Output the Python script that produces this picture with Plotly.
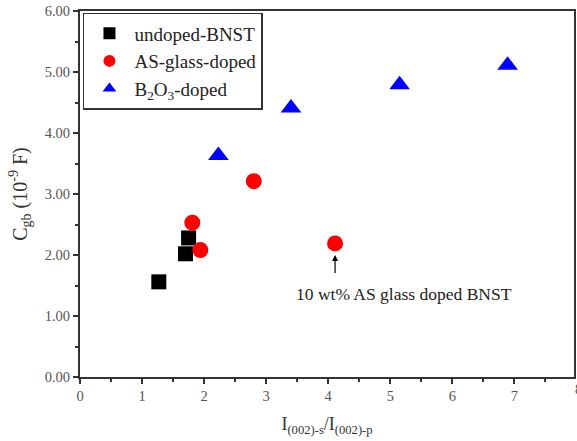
import plotly.graph_objects as go

undoped_x = [1.27, 1.70, 1.75]
undoped_y = [1.56, 2.02, 2.28]
as_x = [1.81, 1.94, 2.80, 4.11]
as_y = [2.53, 2.08, 3.21, 2.19]
b2o3_x = [2.23, 3.40, 5.15, 6.89]
b2o3_y = [3.63, 4.41, 4.79, 5.11]

font = "Liberation Serif, Times New Roman, serif"

fig = go.Figure()
fig.add_trace(go.Scatter(x=undoped_x, y=undoped_y, mode="markers", name="undoped-BNST",
                         marker=dict(symbol="square", size=15, color="black")))
fig.add_trace(go.Scatter(x=as_x, y=as_y, mode="markers", name="AS-glass-doped",
                         marker=dict(symbol="circle", size=16, color="#ff0000")))
fig.add_trace(go.Scatter(x=b2o3_x, y=b2o3_y, mode="markers", name="B<sub>2</sub>O<sub>3</sub>-doped",
                         marker=dict(symbol="triangle-up", size=18, color="#0000ff")))

fig.add_annotation(x=4.11, y=2.0, ax=4.11, ay=1.68, xref="x", yref="y", axref="x", ayref="y",
                   showarrow=True, arrowhead=2, arrowsize=1, arrowwidth=1.2, arrowcolor="black", text="")
fig.add_annotation(x=5.22, y=1.36, xref="x", yref="y", showarrow=False,
                   text="10 wt% AS glass doped BNST", font=dict(size=17.5, color="#222", family=font))
fig.add_annotation(x=1, y=0, xref="paper", yref="paper", xanchor="left", xshift=-1, yshift=-22,
                   showarrow=False, text="8", font=dict(size=14.5, color="#555", family=font))

axis_common = dict(showline=True, linewidth=2, linecolor="#333", mirror=True,
                   ticks="outside", ticklen=5, tickwidth=1.5, tickcolor="#333",
                   showgrid=False, zeroline=False,
                   tickfont=dict(size=14.5, color="#555", family=font))

fig.update_xaxes(range=[0, 7.96], dtick=1, tick0=0,
                 minor=dict(ticks="outside", ticklen=3, dtick=0.5, tickcolor="#333", tickwidth=1.5),
                 title=dict(text="I<sub>(002)-s</sub>/I<sub>(002)-p</sub>", standoff=14,
                            font=dict(size=18, color="#333", family=font)),
                 **axis_common)
fig.update_yaxes(range=[0, 6], dtick=1, tick0=0, tickformat=".2f",
                 minor=dict(ticks="outside", ticklen=3, dtick=0.5, tickcolor="#333", tickwidth=1.5),
                 title=dict(text="C<sub>gb</sub> (10<sup>-9</sup> F)", standoff=12,
                            font=dict(size=20, color="#333", family=font)),
                 **axis_common)

fig.update_layout(
    width=577, height=441,
    margin=dict(l=80, r=1, t=11, b=64),
    plot_bgcolor="white", paper_bgcolor="white",
    font=dict(family=font),
    legend=dict(x=0.006, y=0.995, xanchor="left", yanchor="top",
                bordercolor="#333", borderwidth=1.5, bgcolor="white",
                font=dict(size=19, color="#222", family=font),
                itemsizing="constant", itemwidth=40, tracegroupgap=0),
    showlegend=True,
)

fig.write_html("out.html")
